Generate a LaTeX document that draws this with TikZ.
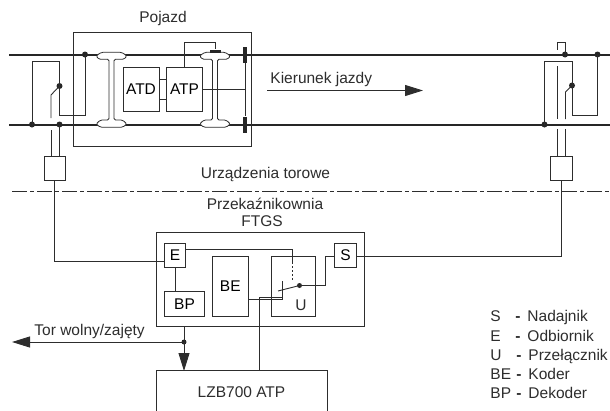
\documentclass[tikz,border=0pt]{standalone}
\usepackage{fontspec}
\setmainfont{Liberation Sans}
\usetikzlibrary{positioning,arrows.meta}
\definecolor{LineGrey}{RGB}{45,45,45}

\begin{document}
\begin{tikzpicture}[
x=1pt,y=-1pt,
line width=0.9pt,draw=LineGrey,
font=\fontsize{15.5}{18}\selectfont,
box/.style={rectangle,draw=LineGrey,fill=none,inner sep=0pt,align=center},
label/.style={inner sep=0pt,text=LineGrey},
legend/.style={inner sep=0pt,anchor=base west,text=LineGrey},
dot/.style={circle,fill=black!85,draw=none,inner sep=0pt,minimum size=6pt},
rail/.style={line width=2pt,draw=black!85},
shoe/.style={draw=none,fill=black!85,inner sep=0pt},
arrow/.style={-{Triangle[length=18pt,width=11pt]},draw=LineGrey},
wheel/.style={fill=white,draw=LineGrey,line width=0.8pt,rounded corners=1.5pt}
]
\useasboundingbox (0,0) rectangle (610,410);
% rails
\coordinate (railAw) at (9,54.5); \coordinate (railAe) at (610,54.5);
\coordinate (railBw) at (9,124.5); \coordinate (railBe) at (610,124.5);
\draw[rail] (railAw)--(railAe);
\draw[rail] (railBw)--(railBe);
% vehicle
\node[box,minimum width=178pt,minimum height=113.5pt] (veh) at (162.5,89.25) {};
\node[label] (vehtxt) at (163,18) {Pojazd};
\foreach \xw in {111.5,215}{
\draw[wheel] (\xw-10,52.3)--(\xw+10,52.3)--(\xw+15.5,55.8)--(\xw+12.5,59.3)--(\xw+2.5,59.3)--(\xw+2.5,120)
--(\xw+11,120)--(\xw+15.5,124)--(\xw+11,127.3)--(\xw-11,127.3)--(\xw-15.5,124)--(\xw-11,120)--(\xw-2.5,120)
--(\xw-2.5,59.3)--(\xw-12.5,59.3)--(\xw-15.5,55.8)--cycle;
}
\node[box,minimum width=36pt,minimum height=43.5pt] (atd) at (141,89.5) {ATD};
\node[box,minimum width=36pt,minimum height=43.5pt] (atp) at (184.5,89.5) {ATP};
\draw ([yshift=10.5pt]atd.east)--([yshift=10.5pt]atp.west);
\draw ([yshift=-10pt]atd.east)--([yshift=-10pt]atp.west);
\node[shoe,minimum width=11pt,minimum height=3pt] (sensor) at (215,51) {};
\node[shoe,minimum width=4pt,minimum height=16pt] (shoeA) at (245,54.7) {};
\node[shoe,minimum width=4pt,minimum height=16pt] (shoeB) at (245,124.7) {};
\draw (shoeA)--(shoeB);
\draw (atp.east)--(atp.east-|shoeA);
\draw (atp.north)--++(0,-25.25)-|(sensor.north);
% left end of section
\node[dot] (ldA) at (85,54.5) {};
\node[dot] (ldB) at (32,124.5) {};
\node[dot] (ldC) at (59.5,124.5) {};
\node[dot] (ldS) at (59.5,86) {};
\node[box,minimum width=21.5pt,minimum height=24.5pt] (txL) at (54.8,168.2) {};
\draw (ldB.center)--(32,61.5)-|(ldS.center);
\draw (ldS.center)--(59.5,115.5)-|(ldA.center);
\draw (ldS.center)--(51,95)--(51,118);
\draw (51,130)--(51,156);
\draw (ldC.center)--(59.5,156);
% right end of section
\node[dot] (rdA) at (565,54.5) {};
\node[dot] (rdB) at (597.5,54.5) {};
\node[dot] (rdC) at (544.5,124.5) {};
\node[dot] (rdS) at (572,85.5) {};
\node[box,minimum width=21.5pt,minimum height=24.5pt] (txR) at (561.2,168.2) {};
\draw (rdA.center)--(565,42.5)--(557.5,42.5)--(557.5,50);
\draw (rdC.center)--(544.5,61.5)-|(rdS.center);
\draw (rdS.center)--(572,115.5)-|(rdB.center);
\draw (rdS.center)--(565.5,92)--(565.5,119);
\draw (557.5,66)--(557.5,119);
\draw (557.5,129)--(557.5,156);
\draw (565.5,129)--(565.5,156);
% direction
\node[label,anchor=base west] (dirtxt) at (270,83) {Kierunek jazdy};
\coordinate (dirA) at (267,90.5); \coordinate (dirB) at (423,90.5);
\draw[arrow] (dirA)--(dirB);
% boundary
\coordinate (bndA) at (12,191.5); \coordinate (bndB) at (610,191.5);
\draw[dash pattern=on 15pt off 3pt on 4pt off 3pt] (bndA)--(bndB);
\node[label] (tracktxt) at (265.5,174) {Urządzenia torowe};
\node[label] (roomtxt) at (265,204) {Przekaźnikownia};
\node[label] (ftgstxt) at (262,221.5) {FTGS};
% FTGS
\node[box,minimum width=208pt,minimum height=93.5pt] (ftgs) at (260,279.25) {};
\node[box,minimum width=21.5pt,minimum height=24pt] (e) at (175,255) {E};
\node[box,minimum width=21.5pt,minimum height=24pt] (s) at (345.5,255) {S};
\node[box,minimum width=39.5pt,minimum height=24.5pt] (bp) at (184.5,304) {BP};
\node[box,minimum width=35.5pt,minimum height=59.5pt] (be) at (230.25,286.25) {BE};
\node[box,minimum width=44pt,minimum height=59.5pt] (u) at (293,286.25) {};
\node[label] (utxt) at (301,305) {U};
\node[dot,minimum size=5pt] (usw) at (299.5,285.5) {};
\node[box,minimum width=170.5pt,minimum height=50pt,draw=none] (lzb) at (241.75,396) {};
\draw (lzb.south west)--(lzb.north west)--(lzb.north east)--(lzb.south east);
\node[label] (lzbtxt) at (241.5,392.5) {LZB700 ATP};
\draw (e.south)--(e.south|-bp.north);
\draw ([yshift=5.5pt]e.east)-|(292.5,262);
\draw[dash pattern=on 2pt off 2pt] (292.5,262)--(292.5,281);
\draw ([yshift=-13.25pt]be.east)-|(282,281);
\coordinate (lzbtap) at (259,297.6);
\draw (282,291)|-(lzbtap);
\draw (lzbtap)--(lzbtap|-lzb.north);
\draw (278,291)--(usw.center);
\draw (usw.center)-|(325,256.5)--(s.west|-0,256.5);
% lines to the track
\draw (txL.south)--(txL.south|-0,261)--(e.west|-0,261);
\draw (s.east|-0,256.5)-|(txR.south);
% outputs
\node[dot,minimum size=5pt] (out) at (184,342) {};
\coordinate (outW) at (12,342);
\draw ([xshift=-76pt]ftgs.south)--(out.center);
\draw[arrow] (out.center)--(outW);
\draw[arrow] (out.center)--(184,371);
\node[label,anchor=base west] (freetxt) at (34,335) {Tor wolny/zajęty};
% legend
\node[legend] (ls) at (490,321) {S}; \node[legend] (lsd) at (515,321) {\textbf{-}}; \node[legend] at (527,321) {Nadajnik};
\node[legend] (le) at (490,341) {E}; \node[legend] (led) at (515,341) {\textbf{-}}; \node[legend] at (527,341) {Odbiornik};
\node[legend] (lu) at (490,360) {U}; \node[legend] (lud) at (516,360) {\textbf{-}}; \node[legend] at (528,360) {Przełącznik};
\node[legend] (lb) at (490,379) {BE}; \node[legend] (lbd) at (516,379) {\textbf{-}}; \node[legend] at (528,379) {Koder};
\node[legend] (lp) at (490,398) {BP}; \node[legend] (lpd) at (516,398) {\textbf{-}}; \node[legend] at (528,398) {Dekoder};
\end{tikzpicture}
\end{document}
